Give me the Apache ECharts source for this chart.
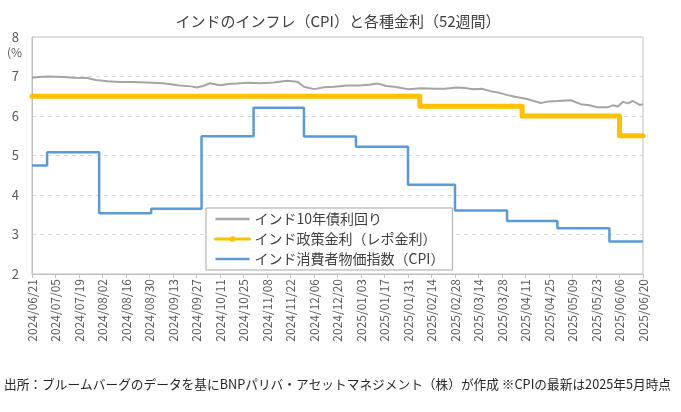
<!DOCTYPE html>
<html><head><meta charset="utf-8">
<script src="https://cdn.jsdelivr.net/npm/echarts@6/dist/echarts.min.js"></script>
<style>html,body{margin:0;padding:0;background:#fff}#c{width:681px;height:412px}</style>
</head><body><div id="c"></div>
<script>
const startDate = '2024/06/21';
const endDate = '2025/06/20';
const tickLabels = ['2024/06/21','2024/07/05','2024/07/19','2024/08/02','2024/08/16','2024/08/30','2024/09/13','2024/09/27','2024/10/11','2024/10/25','2024/11/08','2024/11/22','2024/12/06','2024/12/20','2025/01/03','2025/01/17','2025/01/31','2025/02/14','2025/02/28','2025/03/14','2025/03/28','2025/04/11','2025/04/25','2025/05/09','2025/05/23','2025/06/06','2025/06/20'];
const yTicks = [2,3,4,5,6,7,8];

const bond10y = [['2024/06/21',6.97],['2024/06/25',6.99],['2024/07/01',7.00],['2024/07/10',6.99],['2024/07/16',6.97],['2024/07/24',6.96],['2024/07/29',6.91],['2024/08/05',6.88],['2024/08/12',6.86],['2024/08/20',6.86],['2024/08/28',6.85],['2024/09/07',6.83],['2024/09/17',6.77],['2024/09/24',6.75],['2024/09/27',6.72],['2024/10/01',6.76],['2024/10/05',6.83],['2024/10/11',6.78],['2024/10/16',6.81],['2024/10/21',6.82],['2024/10/28',6.84],['2024/11/04',6.83],['2024/11/12',6.85],['2024/11/20',6.89],['2024/11/26',6.87],['2024/11/30',6.74],['2024/12/06',6.68],['2024/12/12',6.73],['2024/12/18',6.74],['2024/12/26',6.77],['2025/01/02',6.77],['2025/01/08',6.79],['2025/01/13',6.82],['2025/01/18',6.76],['2025/01/23',6.74],['2025/01/31',6.68],['2025/02/08',6.70],['2025/02/16',6.69],['2025/02/22',6.69],['2025/03/01',6.72],['2025/03/06',6.71],['2025/03/11',6.68],['2025/03/16',6.69],['2025/03/21',6.63],['2025/03/27',6.58],['2025/04/02',6.51],['2025/04/07',6.47],['2025/04/12',6.43],['2025/04/16',6.38],['2025/04/20',6.33],['2025/04/25',6.37],['2025/04/30',6.38],['2025/05/08',6.40],['2025/05/14',6.30],['2025/05/19',6.27],['2025/05/24',6.22],['2025/05/30',6.22],['2025/06/02',6.27],['2025/06/05',6.24],['2025/06/08',6.36],['2025/06/11',6.32],['2025/06/14',6.38],['2025/06/18',6.28],['2025/06/20',6.30]];
const repoRate = [['2024/06/21',6.5],['2025/02/07',6.25],['2025/04/09',6.0],['2025/06/06',5.5],['2025/06/20',5.5]];
const cpi = [['2024/06/21',4.75],['2024/06/30',5.08],['2024/07/31',3.54],['2024/08/31',3.65],['2024/09/30',5.49],['2024/10/31',6.21],['2024/11/30',5.48],['2024/12/31',5.22],['2025/01/31',4.26],['2025/02/28',3.61],['2025/03/31',3.34],['2025/04/30',3.16],['2025/05/31',2.82],['2025/06/20',2.82]];
const seriesNames = ['インド10年債利回り','インド政策金利（レポ金利）','インド消費者物価指数（CPI）'];

// daily category axis
const days = [];
(function(){
  const p = s => { const a = s.split('/').map(Number); return new Date(Date.UTC(a[0], a[1]-1, a[2])); };
  const pad = n => (n < 10 ? '0' : '') + n;
  for (let d = p(startDate); d <= p(endDate); d = new Date(d.getTime() + 86400000)) {
    days.push(d.getUTCFullYear() + '/' + pad(d.getUTCMonth()+1) + '/' + pad(d.getUTCDate()));
  }
})();
const isTick = (i, v) => tickLabels.indexOf(v) >= 0;

const font = '"Noto Sans CJK JP", "Noto Sans", sans-serif';
const chart = echarts.init(document.getElementById('c'), null, {renderer: 'canvas'});
chart.setOption({
  animation: false,
  textStyle: {fontFamily: font},
  title: {
    text: 'インドのインフレ（CPI）と各種金利（52週間）',
    left: 333, textAlign: 'center', top: 9,
    textStyle: {fontSize: 15, fontWeight: 'normal', color: '#404040', fontFamily: font}
  },
  grid: {left: 32, right: 38, top: 37, bottom: 138, show: true, borderColor: '#bfbfbf', borderWidth: 1},
  legend: {
    show: true, orient: 'vertical', left: '206', top: '208',
    backgroundColor: '#fff', borderColor: '#a6a6a6', borderWidth: 1,
    padding: [4, 8, 4, 8], itemGap: 6, itemWidth: 34, itemHeight: 7,
    textStyle: {fontSize: 14, color: '#404040', fontFamily: font},
    data: [
      {name: seriesNames[0], itemStyle: {opacity: 0}, lineStyle: {width: 2.5}},
      {name: seriesNames[1], lineStyle: {width: 3}},
      {name: seriesNames[2], itemStyle: {opacity: 0}, lineStyle: {width: 2.5}}
    ]
  },
  xAxis: {
    type: 'category', data: days, boundaryGap: false,
    axisLine: {lineStyle: {color: '#bfbfbf'}},
    axisTick: {interval: isTick, length: 4, lineStyle: {color: '#bfbfbf'}},
    axisLabel: {interval: isTick, rotate: 90, fontSize: 12, color: '#595959', margin: 5, fontFamily: font},
    splitLine: {show: false}
  },
  yAxis: {
    type: 'value', min: yTicks[0], max: yTicks[yTicks.length-1], interval: 1,
    axisLine: {show: true, lineStyle: {color: '#bfbfbf'}},
    axisTick: {show: false},
    axisLabel: {fontSize: 13, color: '#595959', margin: 13, fontFamily: font},
    splitLine: {lineStyle: {color: '#d9d9d9', type: [4, 4]}}
  },
  graphic: [
    {type: 'text', left: 7, top: 46, style: {text: '(%', fontSize: 12, fill: '#595959', fontFamily: font}},
    {type: 'text', left: 4, top: 378, style: {text: '出所：ブルームバーグのデータを基にBNPパリバ・アセットマネジメント（株）が作成 ※CPIの最新は2025年5月時点', fontSize: 12.7, fill: '#262626', fontFamily: font}}
  ],
  series: [
    {name: seriesNames[0], type: 'line', data: bond10y, symbol: 'none', z: 3,
     lineStyle: {color: '#a5a5a5', width: 2}, itemStyle: {color: '#a5a5a5'}},
    {name: seriesNames[1], type: 'line', step: 'end', data: repoRate, symbol: 'circle', symbolSize: 5, showSymbol: false, z: 2,
     lineStyle: {color: '#ffc000', width: 5, cap: 'round', join: 'round'}, itemStyle: {color: '#ffc000'}},
    {name: seriesNames[2], type: 'line', step: 'end', data: cpi, symbol: 'none', z: 4,
     lineStyle: {color: '#5b9bd5', width: 2.5}, itemStyle: {color: '#5b9bd5'}}
  ]
});
</script></body></html>
